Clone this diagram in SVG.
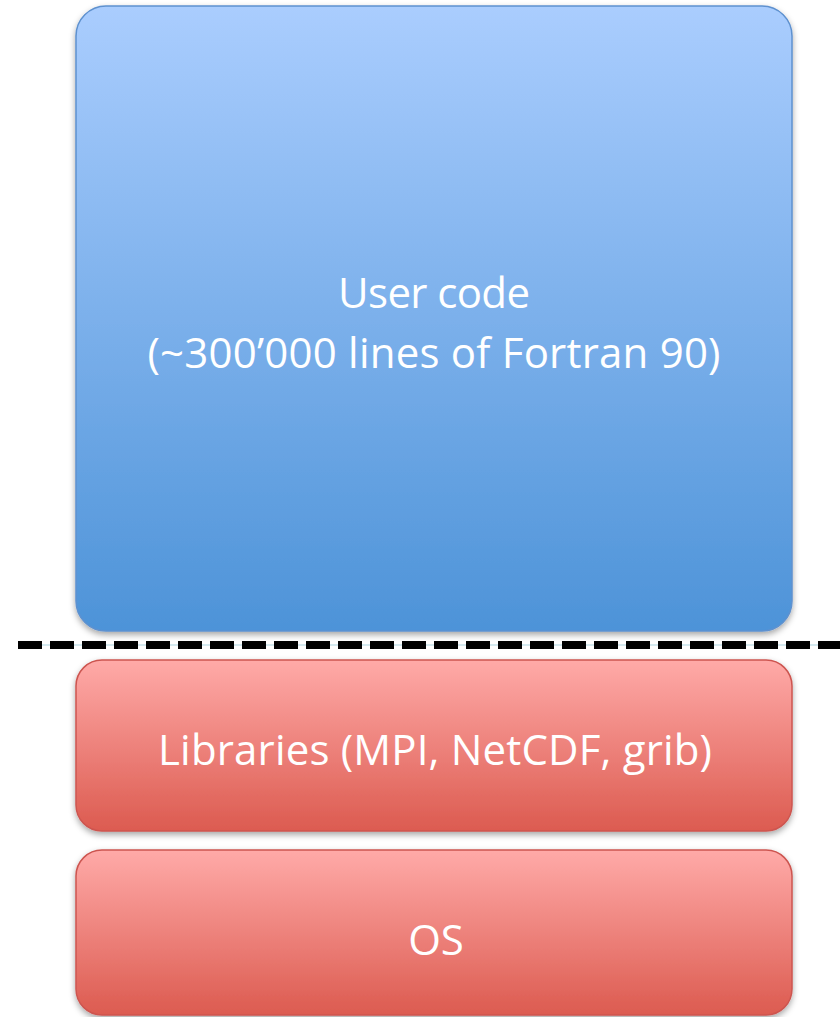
<svg xmlns="http://www.w3.org/2000/svg" width="840" height="1017" viewBox="0 0 840 1017">
<defs>
<linearGradient id="gBlue" x1="0" y1="0" x2="0" y2="1">
<stop offset="0" stop-color="#AACDFE"/>
<stop offset="1" stop-color="#4D93D8"/>
</linearGradient>
<linearGradient id="gRed" x1="0" y1="0" x2="0" y2="1">
<stop offset="0" stop-color="#FFAAA8"/>
<stop offset="1" stop-color="#DC5B50"/>
</linearGradient>
<filter id="sh" x="-5%" y="-5%" width="110%" height="115%">
<feDropShadow dx="0" dy="3" stdDeviation="3" flood-color="#000" flood-opacity="0.35"/>
</filter>
<style>
.blue{fill:url(#gBlue);stroke:#5E91CF;stroke-width:1.5;filter:url(#sh)}
.red{fill:url(#gRed);stroke:#CD5550;stroke-width:1.5;filter:url(#sh)}
.lbl{font-family:"Open Sans","Liberation Sans",sans-serif;font-size:42px;fill:#fff;text-anchor:middle}
</style>
</defs>
<g id="connectors">
<line x1="18" y1="645" x2="840" y2="645" stroke="#A9D3E0" stroke-width="1"/>
<line x1="18" y1="645" x2="840" y2="645" stroke="#000" stroke-width="8" stroke-dasharray="24 8"/>
</g>
<g id="user-code">
<rect class="blue" x="76" y="6" width="716" height="625" rx="30" ry="30"/>
<text class="lbl" x="434" y="308" textLength="192">User code</text>
<text class="lbl" x="434" y="368" textLength="573">(~300’000 lines of Fortran 90)</text>
</g>
<g id="libraries">
<rect class="red" x="76" y="660" width="716" height="171" rx="26" ry="26"/>
<text class="lbl" x="435" y="765" textLength="554">Libraries (MPI, NetCDF, grib)</text>
</g>
<g id="os">
<rect class="red" x="76" y="850" width="716" height="165" rx="26" ry="26"/>
<text class="lbl" x="436" y="955">OS</text>
</g>
</svg>
